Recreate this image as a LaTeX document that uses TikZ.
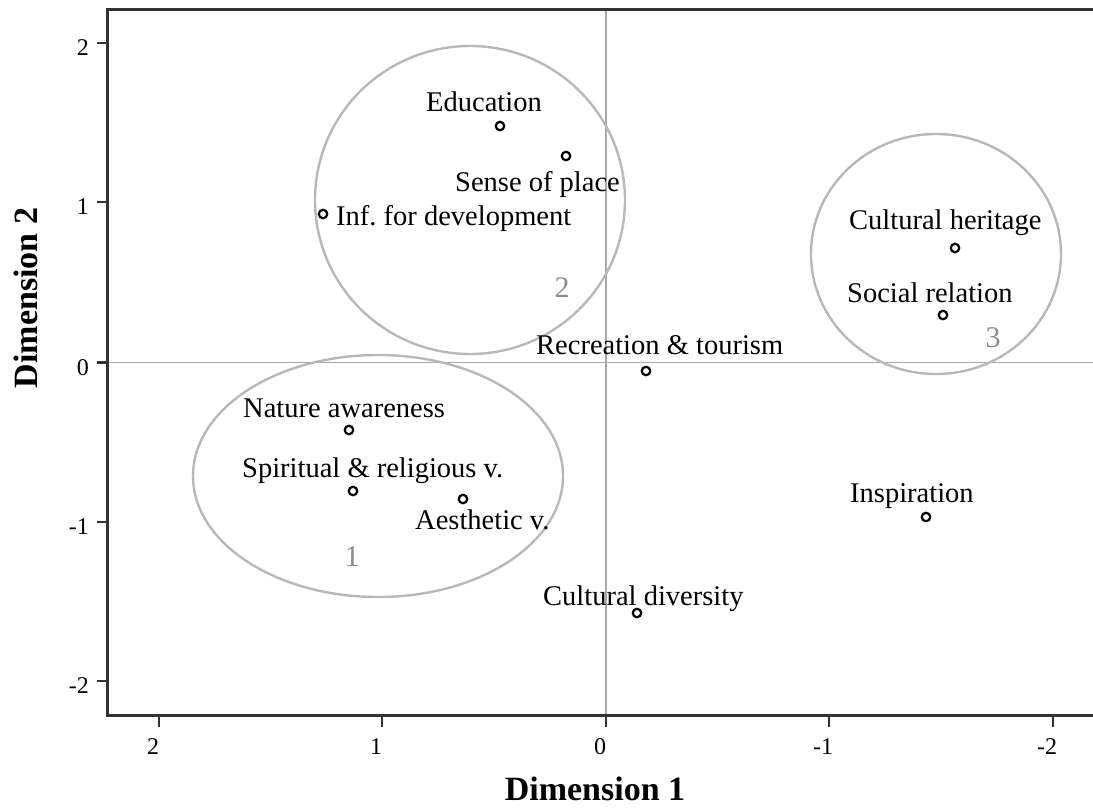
\documentclass[tikz,border=0pt]{standalone}
\usepackage{fontspec}
\setmainfont{Liberation Serif}
\frenchspacing
\definecolor{framecol}{HTML}{333333}
\definecolor{refcol}{HTML}{A8A8A8}
\definecolor{ellcol}{HTML}{B8B8B8}
\definecolor{numcol}{HTML}{8C8C8C}
\begin{document}
\begin{tikzpicture}[x=1pt,y=-1pt,
  pt/.style={circle, draw=black, line width=2.2pt, fill=white, inner sep=0pt, minimum size=8.5pt},
  lbl/.style={anchor=base west, inner sep=0pt, font=\fontsize{28.5}{32}\selectfont},
  ticklbl/.style={inner sep=0pt, font=\fontsize{24}{28}\selectfont},
  axtitle/.style={inner sep=0pt, font=\fontsize{34}{38}\selectfont\bfseries},
  clus/.style={draw=ellcol, line width=2.4pt},
  clusnum/.style={inner sep=0pt, text=numcol, font=\fontsize{30}{34}\selectfont},
  frameline/.style={draw=framecol, line width=3pt},
  refline/.style={draw=refcol, line width=1.4pt},
  tickmark/.style={draw=framecol, line width=2.8pt}]
\useasboundingbox (0,0) rectangle (1093,807);
% reference lines
\draw[refline] (606,9) -- (606,715);
\draw[refline] (107,362.5) -- (1093,362.5);
% cluster ellipses
\draw[clus] (470,200) ellipse [x radius=155pt, y radius=154pt];
\draw[clus] (378,476) ellipse [x radius=185pt, y radius=121pt];
\draw[clus] (936,254) ellipse [x radius=125pt, y radius=120pt];
\node[clusnum] (n2) at (562,288) {2};
\node[clusnum] (n1) at (352,557) {1};
\node[clusnum] (n3) at (993,338) {3};
% frame
\draw[frameline] (1093,9) -- (107,9) -- (107,715) -- (1093,715);
% y ticks
\foreach \yy/\t in {43/2,202/1,362.5/0,522/-1,681/-2}{
  \draw[tickmark] (97,\yy) -- (107,\yy);
  \node[ticklbl, anchor=east] at (89,\yy+5) {\t};
}
% x ticks
\foreach \xx/\t in {159/2,382/1,606/0,829/-1,1053/-2}{
  \draw[tickmark] (\xx,715) -- (\xx,727);
  \node[ticklbl] at (\xx-6,747) {\t};
}
% axis titles
\node[axtitle, anchor=base] (t1) at (595,800) {Dimension 1};
\node[axtitle, anchor=base, rotate=90] (t2) at (37,298) {Dimension 2};
% points
\node[pt] (p1) at (500,126) {};
\node[pt] (p2) at (566,156) {};
\node[pt] (p3) at (323,214) {};
\node[pt] (p4) at (955,248) {};
\node[pt] (p5) at (943,315) {};
\node[pt] (p6) at (646,371) {};
\node[pt] (p7) at (349,430) {};
\node[pt] (p8) at (353,491) {};
\node[pt] (p9) at (463,499) {};
\node[pt] (p10) at (926,517) {};
\node[pt] (p11) at (637,613) {};
% labels
\node[lbl] (l1) at (426,111) {Education};
\node[lbl] (l2) at (455,191) {Sense of place};
\node[lbl] (l3) at (336,225) {Inf. for development};
\node[lbl] (l4) at (849,229) {Cultural heritage};
\node[lbl] (l5) at (847,302) {Social relation};
\node[lbl] (l6) at (536,354) {Recreation \& tourism};
\node[lbl] (l7) at (243,417) {Nature awareness};
\node[lbl] (l8) at (242,477) {Spiritual \& religious v.};
\node[lbl] (l9) at (415,529) {Aesthetic v.};
\node[lbl] (l10) at (850,502) {Inspiration};
\node[lbl] (l11) at (543,605) {Cultural diversity};
\end{tikzpicture}
\end{document}
